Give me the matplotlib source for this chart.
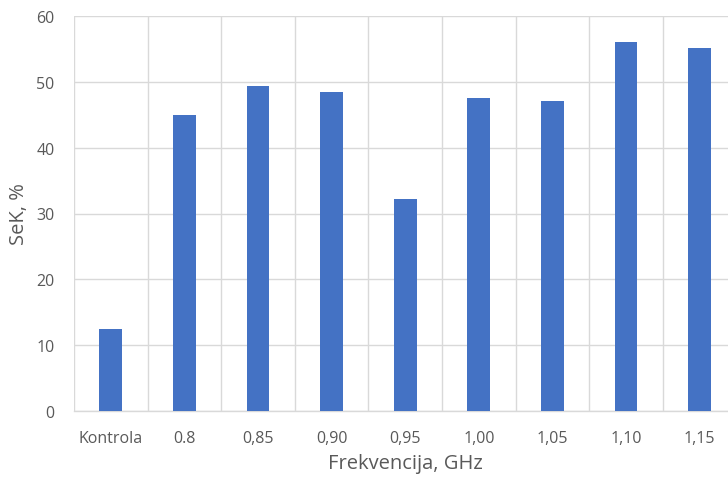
import matplotlib
matplotlib.use("Agg")
import matplotlib.pyplot as plt
import numpy as np

categories = ["Kontrola", "0.8", "0,85", "0,90", "0,95", "1,00", "1,05", "1,10", "1,15"]
values = [12.5, 44.9, 49.4, 48.4, 32.2, 47.6, 47.1, 56.1, 55.1]

plt.rcParams['font.family'] = ['Open Sans', 'DejaVu Sans']

W, H = 728, 481
fig = plt.figure(figsize=(W/100, H/100), dpi=100)
left, right, top, bottom = 74, 736.5, 17, 412
ax = fig.add_axes([left/W, 1 - bottom/H, (right-left)/W, (bottom-top)/H])

x = np.arange(len(categories))
ax.bar(x, values, width=0.31, color="#4472C4", zorder=3)

ax.set_xlim(-0.5, len(categories) - 0.5)
ax.set_ylim(0, 60)
ax.set_yticks(np.arange(0, 61, 10))
ax.set_xticks(x)
ax.set_xticklabels(categories)
ax.set_xticks(np.arange(-0.5, len(categories), 1), minor=True)

ax.grid(axis='y', which='major', color="#D9D9D9", linewidth=1.0, zorder=0)
ax.grid(axis='x', which='minor', color="#D9D9D9", linewidth=1.0, zorder=0)
ax.grid(axis='x', which='major', visible=False)

for s in ['top', 'right', 'left']:
    ax.spines[s].set_visible(False)
ax.spines['bottom'].set_color("#D9D9D9")
ax.spines['bottom'].set_linewidth(1.0)

ax.tick_params(axis='both', which='both', length=0, labelsize=11.5, labelcolor="#595959")
ax.tick_params(axis='x', pad=14)
ax.tick_params(axis='y', pad=14)

ax.set_xlabel("Frekvencija, GHz", fontsize=14.5, color="#595959")
ax.set_ylabel("SeK, %", fontsize=14.5, color="#595959")
ax.yaxis.set_label_coords((19 - left) / (right - left), 0.5)
ax.xaxis.set_label_coords(0.5, -(464 - bottom) / (bottom - top))
ax.xaxis.label.set_va('center')
ax.yaxis.label.set_va('center')

fig.savefig("out.png", dpi=100)
